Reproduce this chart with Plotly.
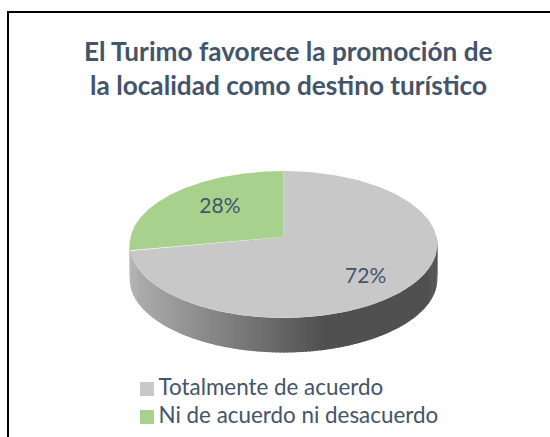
import numpy as np
import plotly.graph_objects as go

categories = ["Totalmente de acuerdo", "Ni de acuerdo ni desacuerdo"]
values = [72, 28]
labels = ["72%", "28%"]
colors = ["#C8C8C8", "#A9D18E"]
title_lines = ["El Turimo favorece la promoción de", "la localidad como destino turístico"]

TEXT = "#44546A"
FONT = "Lato"
CX, CY, RX, RY, PERSP, DEPTH = 283.5, 237.0, 153.0, 72.7, 0.102, 34.5


def project(turn):
    """Fraction of the pie, clockwise from the top -> screen position."""
    a = 2 * np.pi * np.asarray(turn, dtype=float)
    u, v = np.sin(a), np.cos(a)
    w = 1 + PERSP * v
    return CX + RX * u / w, CY - RY * v / w


def wall_colour(x):
    t = min(max((x - 130) / (325 - 130), 0), 1)
    g = int(round(176 + (80 - 176) * t))
    return f"rgb({g},{g},{g})"


fig = go.Figure()

# side wall: thin segments carrying the horizontal shading
turns = np.linspace(0.745, 0.25, 141)
for a, b in zip(turns[:-1], turns[1:]):
    ts = np.linspace(a, b + (b - a) * 0.6, 4)
    x, y = project(ts)
    xs = np.concatenate([x, x[::-1], x[:1]])
    ys = np.concatenate([y, y[::-1] + DEPTH, y[:1]])
    fig.add_trace(go.Scatter(x=xs, y=ys, mode="lines", fill="toself", line=dict(width=0),
                             fillcolor=wall_colour(x.mean()), hoverinfo="skip", showlegend=False))

# top face: one wedge per category, clockwise, ending at the top of the pie
fractions = np.array(values) / sum(values)
start = 0.0
label_pos = [(0.378, 0.733), (0.873, 0.606)]
for i, (frac, col) in enumerate(zip(fractions, colors)):
    ts = np.linspace(start, start + frac, 200)
    x, y = project(ts)
    fig.add_trace(go.Scatter(x=np.r_[CX, x, CX], y=np.r_[CY, y, CY], mode="lines", fill="toself",
                             line=dict(width=0), fillcolor=col, name=categories[i],
                             hoverinfo="skip", showlegend=False))
    mid, rad = label_pos[i]
    a = 2 * np.pi * mid
    w = 1 + PERSP * np.cos(a) * rad
    fig.add_trace(go.Scatter(x=[CX + RX * rad * np.sin(a) / w], y=[CY - RY * rad * np.cos(a) / w],
                             mode="text", text=[labels[i]], hoverinfo="skip", showlegend=False,
                             textfont=dict(family=FONT, size=21, color=TEXT)))
    start += frac

# legend
fig.add_trace(go.Scatter(x=[147, 147], y=[389, 417], mode="markers", hoverinfo="skip", showlegend=False,
                         marker=dict(symbol="square", size=14, color=colors)))
fig.add_trace(go.Scatter(x=[158.5, 158.5], y=[389.5, 417.5], mode="text", text=categories,
                         textposition="middle right", hoverinfo="skip", showlegend=False,
                         textfont=dict(family=FONT, size=22.4, color=TEXT)))

fig.update_layout(
    width=550, height=437, margin=dict(l=0, r=0, t=0, b=0),
    paper_bgcolor="white", plot_bgcolor="white", showlegend=False,
    xaxis=dict(range=[0, 550], visible=False, fixedrange=True),
    yaxis=dict(range=[437, 0], visible=False, fixedrange=True),
    annotations=[dict(x=288, y=y, xref="x", yref="y", text=f"<b>{t}</b>", showarrow=False,
                      font=dict(family=FONT, size=26.2, color=TEXT))
                 for t, y in zip(title_lines, [51, 85])],
    shapes=[dict(type="rect", x0=8, x1=560, y0=12, y1=450, line=dict(color="black", width=2),
                 fillcolor="rgba(0,0,0,0)", layer="below")],
)
fig.write_html("out.html", config=dict(displayModeBar=False),
               post_script="document.body.style.margin='0';document.documentElement.style.overflow='hidden';")
